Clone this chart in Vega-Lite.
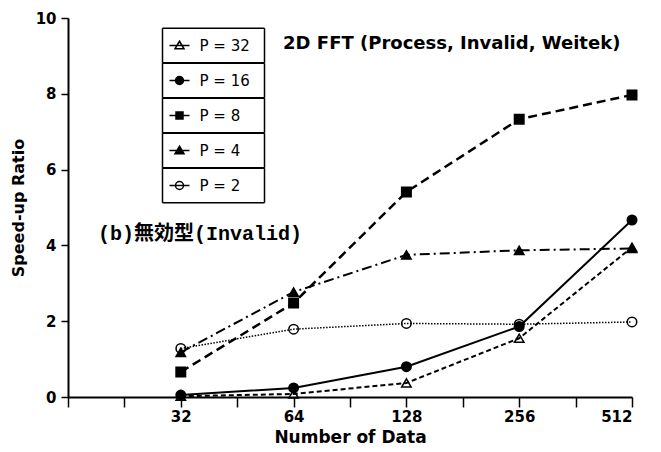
{
  "$schema": "https://vega.github.io/schema/vega-lite/v6.json",
  "width": 564,
  "height": 379,
  "autosize": {"type": "none"},
  "padding": {"left": 68, "top": 18, "right": 29, "bottom": 55},
  "background": "white",
  "config": {"view": {"stroke": null}, "font": "DejaVu Sans"},
  "datasets": {
    "speedup": [
      {"N": 32, "S": 0.02, "P": "P = 32"},
      {"N": 64, "S": 0.08, "P": "P = 32"},
      {"N": 128, "S": 0.37, "P": "P = 32"},
      {"N": 256, "S": 1.55, "P": "P = 32"},
      {"N": 512, "S": 3.95, "P": "P = 32"},
      {"N": 32, "S": 0.05, "P": "P = 16"},
      {"N": 64, "S": 0.24, "P": "P = 16"},
      {"N": 128, "S": 0.80, "P": "P = 16"},
      {"N": 256, "S": 1.86, "P": "P = 16"},
      {"N": 512, "S": 4.67, "P": "P = 16"},
      {"N": 32, "S": 0.66, "P": "P = 8"},
      {"N": 64, "S": 2.48, "P": "P = 8"},
      {"N": 128, "S": 5.41, "P": "P = 8"},
      {"N": 256, "S": 7.33, "P": "P = 8"},
      {"N": 512, "S": 7.97, "P": "P = 8"},
      {"N": 32, "S": 1.18, "P": "P = 4"},
      {"N": 64, "S": 2.77, "P": "P = 4"},
      {"N": 128, "S": 3.75, "P": "P = 4"},
      {"N": 256, "S": 3.87, "P": "P = 4"},
      {"N": 512, "S": 3.92, "P": "P = 4"},
      {"N": 32, "S": 1.28, "P": "P = 2"},
      {"N": 64, "S": 1.79, "P": "P = 2"},
      {"N": 128, "S": 1.94, "P": "P = 2"},
      {"N": 256, "S": 1.92, "P": "P = 2"},
      {"N": 512, "S": 1.98, "P": "P = 2"}
    ]
  },
  "layer": [
    {
      "data": {"name": "speedup"},
      "resolve": {"scale": {"shape": "independent", "fill": "independent", "stroke": "independent"}, "legend": {"shape": "independent", "fill": "independent", "stroke": "independent"}},
      "encoding": {
        "x": {
          "field": "N", "type": "quantitative",
          "scale": {"type": "log", "base": 2, "domain": [16, 512]},
          "axis": {
            "title": "Number of Data",
            "values": [16, 22.627, 32, 45.255, 64, 90.51, 128, 181.02, 256, 362.04, 512],
            "labelExpr": "indexof([32,64,128,256,512], datum.value) >= 0 ? datum.value : ''",
            "grid": false,
            "domainColor": "black", "domainWidth": 2,
            "tickColor": "black", "tickWidth": 1.5, "tickSize": 10,
            "labelFont": "DejaVu Sans", "labelFontWeight": "bold", "labelFontSize": 15, "labelColor": "black",
            "labelPadding": 2, "labelOverlap": false,
            "titleFont": "DejaVu Sans", "titleFontWeight": "bold", "titleFontSize": 17, "titleColor": "black",
            "titlePadding": 5
          }
        },
        "y": {
          "field": "S", "type": "quantitative",
          "scale": {"domain": [0, 10], "nice": false, "zero": true},
          "axis": {
            "title": "Speed-up Ratio",
            "values": [0, 2, 4, 6, 8, 10],
            "grid": false,
            "domainColor": "black", "domainWidth": 2,
            "tickColor": "black", "tickWidth": 1.5, "tickSize": 7,
            "labelFont": "DejaVu Sans", "labelFontWeight": "bold", "labelFontSize": 15, "labelColor": "black",
            "labelPadding": 5,
            "titleFont": "DejaVu Sans", "titleFontWeight": "bold", "titleFontSize": 16, "titleColor": "black",
            "titlePadding": 9
          }
        }
      },
      "layer": [
        {"transform": [{"filter": "datum.P === 'P = 2'"}],
         "mark": {"type": "line", "stroke": "black", "strokeWidth": 1.5, "strokeDash": [1.5, 1.5]}},
        {"transform": [{"filter": "datum.P === 'P = 4'"}],
         "mark": {"type": "line", "stroke": "black", "strokeWidth": 2, "strokeDash": [10, 4, 2, 4]}},
        {"transform": [{"filter": "datum.P === 'P = 8'"}],
         "mark": {"type": "line", "stroke": "black", "strokeWidth": 2.5, "strokeDash": [9, 5]}},
        {"transform": [{"filter": "datum.P === 'P = 16'"}],
         "mark": {"type": "line", "stroke": "black", "strokeWidth": 2}},
        {"transform": [{"filter": "datum.P === 'P = 32'"}],
         "mark": {"type": "line", "stroke": "black", "strokeWidth": 2, "strokeDash": [5, 3]}},
        {
          "mark": {"type": "point", "filled": true, "stroke": "black", "strokeWidth": 1.5, "size": 90, "opacity": 1},
          "encoding": {
            "shape": {
              "field": "P", "type": "nominal",
              "scale": {"domain": ["P = 32", "P = 16", "P = 8", "P = 4", "P = 2"],
                        "range": ["triangle-up", "circle", "square", "triangle-up", "circle"]},
              "legend": null
            },
            "fill": {
              "field": "P", "type": "nominal",
              "scale": {"domain": ["P = 32", "P = 16", "P = 8", "P = 4", "P = 2"],
                        "range": ["transparent", "black", "black", "black", "transparent"]},
              "legend": null
            }
          }
        },
        {
          "transform": [{"filter": "datum.N < 0"}],
          "mark": {"type": "point", "filled": true, "stroke": "black", "strokeWidth": 1.5, "size": 100, "opacity": 1},
          "encoding": {
            "shape": {
              "field": "P", "type": "nominal",
              "scale": {"domain": ["P = 32", "P = 16", "P = 8", "P = 4", "P = 2"],
                        "range": [
                          "M-2,0H2M0,-0.85L0.9,0.65H-0.9ZM-3.4,-3.45H17M-3.4,3.45H17M-3.4,-3.45V3.45M17,-3.45V3.45",
                          "M-2,0H2M-0.8,0A0.8,0.8 0 1,0 0.8,0A0.8,0.8 0 1,0 -0.8,0ZM-3.4,-3.45H17M-3.4,3.45H17M-3.4,-3.45V3.45M17,-3.45V3.45",
                          "M-2,0H2M-0.7,-0.7H0.7V0.7H-0.7ZM-3.4,-3.45H17M-3.4,3.45H17M-3.4,-3.45V3.45M17,-3.45V3.45",
                          "M-2,0H2M0,-0.85L0.9,0.65H-0.9ZM-3.4,-3.45H17M-3.4,3.45H17M-3.4,-3.45V3.45M17,-3.45V3.45",
                          "M-2,0H2M-0.8,0A0.8,0.8 0 1,0 0.8,0A0.8,0.8 0 1,0 -0.8,0ZM-3.4,-3.45H17M-3.4,3.45H17M-3.4,-3.45V3.45M17,-3.45V3.45"
                        ]},
              "legend": {
                "orient": "none", "legendX": 104, "legendY": 20,
                "title": null, "padding": 0, "strokeColor": null,
                "symbolSize": 100, "symbolStrokeWidth": 1.5, "symbolStrokeColor": "black",
                "labelFont": "DejaVu Sans", "labelFontSize": 15, "labelColor": "black",
                "labelOffset": 12.5, "rowPadding": -6
              }
            },
            "fill": {
              "field": "P", "type": "nominal",
              "scale": {"domain": ["P = 32", "P = 16", "P = 8", "P = 4", "P = 2"],
                        "range": ["transparent", "black", "black", "black", "transparent"]},
              "legend": {
                "orient": "none", "legendX": 104, "legendY": 20,
                "title": null, "padding": 0, "strokeColor": null,
                "symbolSize": 100, "symbolStrokeWidth": 1.5, "symbolStrokeColor": "black",
                "labelFont": "DejaVu Sans", "labelFontSize": 15, "labelColor": "black",
                "labelOffset": 12.5, "rowPadding": -6
              }
            },
            "stroke": {
              "field": "P", "type": "nominal",
              "scale": {"domain": ["P = 32", "P = 16", "P = 8", "P = 4", "P = 2"],
                        "range": ["black", "black", "black", "black", "black"]},
              "legend": {
                "orient": "none", "legendX": 104, "legendY": 20,
                "title": null, "padding": 0, "strokeColor": null,
                "symbolSize": 100, "symbolStrokeWidth": 1.5, "symbolStrokeColor": "black",
                "labelFont": "DejaVu Sans", "labelFontSize": 15, "labelColor": "black",
                "labelOffset": 12.5, "rowPadding": -6
              }
            }
          }
        }
      ]
    },
    {
      "data": {"values": [{"t": "2D FFT (Process, Invalid, Weitek)"}]},
      "mark": {"type": "text", "font": "DejaVu Sans", "fontWeight": "bold", "fontSize": 18, "align": "left", "baseline": "middle", "fill": "black"},
      "encoding": {
        "x": {"datum": 60, "type": "quantitative"},
        "y": {"datum": 9.31, "type": "quantitative"},
        "text": {"field": "t", "type": "nominal"}
      }
    },
    {
      "data": {"values": [{"t": "(b)無効型(Invalid)"}]},
      "mark": {"type": "text", "font": "Liberation Mono, Noto Sans CJK JP", "fontWeight": "bold", "fontSize": 20, "align": "left", "baseline": "middle", "fill": "black"},
      "encoding": {
        "x": {"datum": 19.25, "type": "quantitative"},
        "y": {"datum": 4.3, "type": "quantitative"},
        "text": {"field": "t", "type": "nominal"}
      }
    }
  ]
}
